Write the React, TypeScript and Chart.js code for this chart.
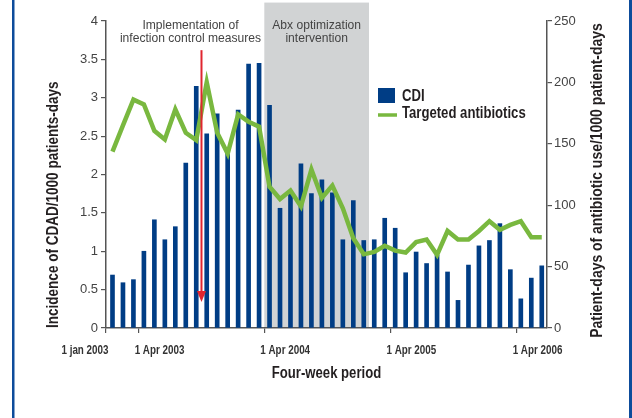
import React, { useEffect, useRef } from 'react';
import { Chart, registerables } from 'chart.js';

Chart.register(...registerables);

// Four-week periods (index of the period, first one starting 1 Jan 2003)
const periods = [
  0, 1, 2, 3, 4, 5, 6, 7, 8, 9, 10, 11, 12, 13, 14, 15, 16, 17, 18, 19, 20,
  21, 22, 23, 24, 25, 26, 27, 28, 29, 30, 31, 32, 33, 34, 35, 36, 37, 38, 39, 40, 41,
];

// Incidence of CDAD / 1000 patient-days (left axis)
const cdiIncidence = [
  0.69, 0.59, 0.63, 1.0, 1.41, 1.15, 1.32, 2.15, 3.15, 2.53, 2.79, 2.3, 2.84, 3.44,
  3.45, 2.9, 1.56, 1.75, 2.14, 1.75, 1.93, 1.76, 1.15, 1.66, 1.14, 1.15, 1.43, 1.3,
  0.72, 0.99, 0.84, 0.95, 0.73, 0.36, 0.82, 1.07, 1.14, 1.36, 0.76, 0.38, 0.65, 0.81,
];

// Patient-days of targeted antibiotic use / 1000 patient-days (right axis)
const targetedAntibiotics = [
  143.6, 165, 186, 182, 160.6, 153.6, 178, 159, 153, 200, 159, 142, 174, 168,
  164, 115, 105, 112, 99, 129, 106, 116, 97.5, 73, 60, 62, 67, 63,
  61.5, 70, 72, 59.6, 79, 72, 72, 79, 87, 80, 84, 87, 74, 74,
];

// x-axis tick positions (in period units) and their labels
const xAxisMin = -0.62;
const xAxisMax = 41.5;
const xTickValues = [2.5, 14.5, 26.55, 38.6];
const xTickLabels = ['1 Apr 2003', '1 Apr 2004', '1 Apr 2005', '1 Apr 2006'];
const xStartLabel = '1 jan 2003';

// Interventions (period units)
const infectionControlAt = 8.5;
const abxInterventionStart = 14.5;
const abxInterventionEnd = 24.5;

const FONT = '"Liberation Sans", Arial, sans-serif';
const NARROW = 0.82;
const BLUE = '#003d85';
const GREEN = '#79b83f';
const TEXT = '#231f20';
const TICK = '#444444';
const AXIS = '#555555';

function drawText(
  ctx: CanvasRenderingContext2D,
  text: string,
  x: number,
  y: number,
  font: string,
  squeeze: number,
  align: CanvasTextAlign,
  color: string,
  rotation = 0,
) {
  ctx.save();
  ctx.translate(x, y);
  if (rotation) ctx.rotate(rotation);
  ctx.scale(squeeze, 1);
  ctx.font = font;
  ctx.fillStyle = color;
  ctx.textAlign = align;
  ctx.textBaseline = 'middle';
  ctx.fillText(text, 0, 0);
  ctx.restore();
}

const decorPlugin = {
  id: 'decor',
  beforeDraw(chart: any) {
    const { ctx, height } = chart;
    const x = chart.scales.x;
    const y = chart.scales.y;
    ctx.save();
    // frame lines
    ctx.fillStyle = '#0d4c9b';
    ctx.fillRect(12, 0, 2.5, height);
    ctx.fillRect(629, 0, 3, height);
    // shaded intervention
    const x0 = x.getPixelForValue(abxInterventionStart);
    const x1 = x.getPixelForValue(abxInterventionEnd);
    const yTop = y.getPixelForValue(4.24);
    const yBot = y.getPixelForValue(0);
    ctx.fillStyle = '#d1d3d4';
    ctx.fillRect(x0, yTop, x1 - x0, yBot - yTop);
    ctx.restore();
    // annotation texts
    const f = `13px ${FONT}`;
    const cx = (x0 + x1) / 2;
    drawText(ctx, 'Abx optimization', cx, 25.5, f, 0.93, 'center', TICK);
    drawText(ctx, 'intervention', cx, 38.5, f, 0.93, 'center', TICK);
    const ix = x.getPixelForValue(infectionControlAt) - 11;
    drawText(ctx, 'Implementation of', ix, 25.5, f, 0.93, 'center', TICK);
    drawText(ctx, 'infection control measures', ix, 38.5, f, 0.93, 'center', TICK);
  },
  afterDatasetsDraw(chart: any) {
    const { ctx, chartArea } = chart;
    const x = chart.scales.x;
    const y = chart.scales.y;
    ctx.save();
    // red arrow
    const ax = x.getPixelForValue(infectionControlAt);
    const aTop = y.getPixelForValue(3.62);
    const aTip = y.getPixelForValue(0.34);
    ctx.strokeStyle = '#e0252f';
    ctx.lineWidth = 2;
    ctx.beginPath();
    ctx.moveTo(ax, aTop);
    ctx.lineTo(ax, aTip - 8);
    ctx.stroke();
    ctx.fillStyle = '#e0252f';
    ctx.beginPath();
    ctx.moveTo(ax - 4.5, aTip - 11);
    ctx.lineTo(ax + 4.5, aTip - 11);
    ctx.lineTo(ax, aTip);
    ctx.closePath();
    ctx.fill();

    // legend
    const lx = chartArea.left + 272;
    const ly = chartArea.top + 67;
    ctx.fillStyle = BLUE;
    ctx.fillRect(lx, ly, 17, 15);
    ctx.strokeStyle = GREEN;
    ctx.lineWidth = 3.5;
    ctx.beginPath();
    ctx.moveTo(lx, ly + 27);
    ctx.lineTo(lx + 19, ly + 27);
    ctx.stroke();
    ctx.restore();
    const lf = `bold 16px ${FONT}`;
    drawText(ctx, 'CDI', lx + 24, ly + 8.5, lf, NARROW, 'left', TEXT);
    drawText(ctx, 'Targeted antibiotics', lx + 24, ly + 26, lf, NARROW, 'left', TEXT);

    // x tick labels
    const tf = `bold 12px ${FONT}`;
    const labelY = chartArea.bottom + 22.5;
    drawText(ctx, xStartLabel, x.getPixelForValue(xAxisMin) + 2.5, labelY, tf, NARROW, 'right', '#333333');
    xTickValues.forEach((v, i) => {
      drawText(ctx, xTickLabels[i], x.getPixelForValue(v) - 4, labelY, tf, NARROW, 'left', '#333333');
    });

    // axis titles
    const af = `bold 16.5px ${FONT}`;
    drawText(ctx, 'Four-week period', (chartArea.left + chartArea.right) / 2, chartArea.bottom + 45.5,
      `bold 16px ${FONT}`, NARROW, 'center', TEXT);
    drawText(ctx, 'Incidence of CDAD/1000 patients-days', 53, chartArea.bottom, af, NARROW, 'left', TEXT, -Math.PI / 2);
    drawText(ctx, 'Patient-days of antibiotic use/1000 patient-days', 597, (chartArea.top + chartArea.bottom) / 2 + 6,
      `bold 17px ${FONT}`, NARROW, 'center', TEXT, -Math.PI / 2);
  },
};

export default function App() {
  const ref = useRef<HTMLCanvasElement | null>(null);
  useEffect(() => {
    document.body.style.margin = '0';
    const canvas = ref.current;
    if (!canvas) return;
    const chart = new Chart(canvas, {
      type: 'bar',
      data: {
        datasets: [
          {
            type: 'line',
            label: 'Targeted antibiotics',
            data: periods.map((p, i) => ({ x: p, y: targetedAntibiotics[i] })),
            yAxisID: 'y1',
            borderColor: GREEN,
            borderWidth: 4.5,
            pointRadius: 0,
            tension: 0,
            fill: false,
            order: 1,
          } as any,
          {
            type: 'bar',
            label: 'CDI',
            data: periods.map((p, i) => ({ x: p, y: cdiIncidence[i] })),
            yAxisID: 'y',
            backgroundColor: BLUE,
            barThickness: 4,
            order: 2,
          } as any,
        ],
      },
      options: {
        animation: false,
        responsive: false,
        devicePixelRatio: 1,
        layout: { padding: { top: 21, left: 0, right: 0, bottom: 0 } },
        plugins: { legend: { display: false }, tooltip: { enabled: false } },
        scales: {
          x: {
            type: 'linear',
            position: 'bottom',
            min: xAxisMin,
            max: xAxisMax,
            offset: false,
            grid: { offset: false, drawOnChartArea: false, drawTicks: true, tickLength: 5, color: AXIS, lineWidth: 1.2 },
            border: { display: true, color: AXIS, width: 1.5 },
            ticks: { display: false },
            afterBuildTicks: (s: any) => {
              s.ticks = [{ value: xAxisMin }, ...xTickValues.map((v) => ({ value: v }))];
            },
            afterFit: (s: any) => {
              s.height = 90;
            },
          },
          y: {
            type: 'linear',
            position: 'left',
            min: 0,
            max: 4,
            ticks: {
              stepSize: 0.5,
              color: TICK,
              font: { family: FONT, size: 13 },
              padding: 3,
              callback: (v: any) => String(v),
            },
            grid: { drawOnChartArea: false, tickLength: 5, color: AXIS, lineWidth: 1.2 },
            border: { display: true, color: AXIS, width: 1.5 },
            afterFit: (s: any) => {
              s.width = 106;
            },
          },
          y1: {
            type: 'linear',
            position: 'right',
            min: 0,
            max: 250,
            ticks: {
              stepSize: 50,
              color: TICK,
              font: { family: FONT, size: 13 },
              padding: 2,
            },
            grid: { drawOnChartArea: false, tickLength: 5, color: AXIS, lineWidth: 1.2 },
            border: { display: true, color: AXIS, width: 1.5 },
            afterFit: (s: any) => {
              s.width = 85;
            },
          },
        },
      },
      plugins: [decorPlugin],
    } as any);
    return () => chart.destroy();
  }, []);
  return (
    <div style={{ position: 'relative', width: 632, height: 418 }}>
      <canvas ref={ref} width={632} height={418} style={{ display: 'block' }} />
    </div>
  );
}
